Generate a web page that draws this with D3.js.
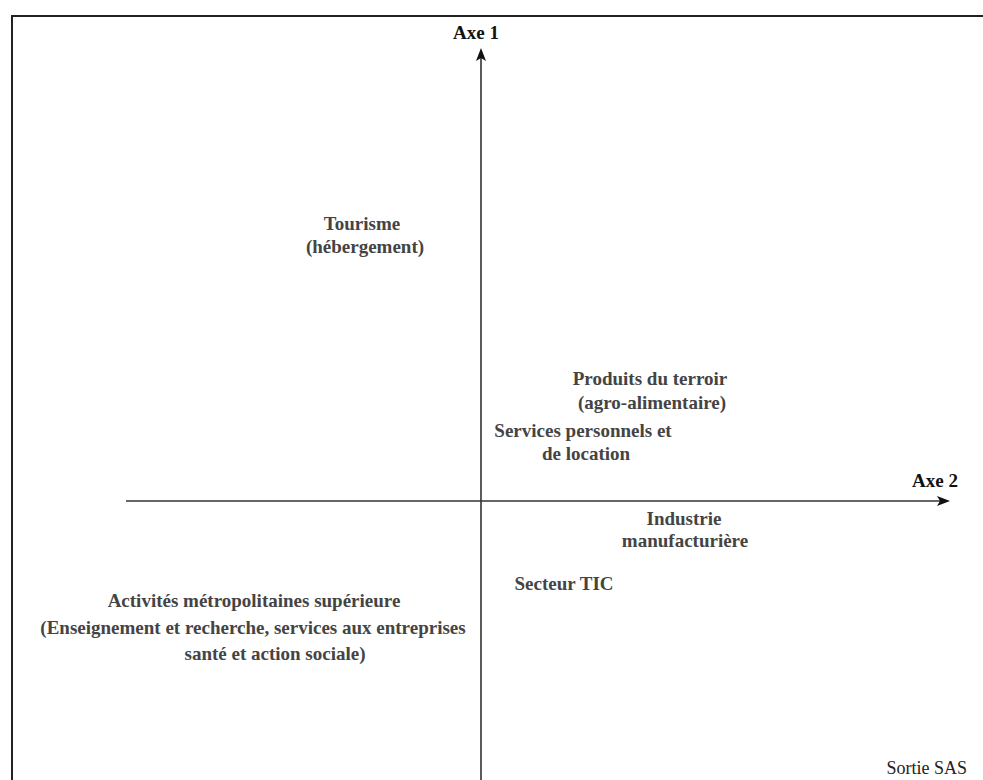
<!DOCTYPE html>
<html><head><meta charset="utf-8">
<script src="https://cdn.jsdelivr.net/npm/d3@7"></script>
<style>
html,body{margin:0;padding:0;background:#fff;}
svg{display:block;}
</style></head>
<body>
<svg id="chart" width="983" height="780"></svg>
<script>
// Category labels (each is a list of lines)
const categories = [
  ["Tourisme", "(hébergement)"],
  ["Produits du terroir", "(agro-alimentaire)"],
  ["Services personnels et", "de location"],
  ["Industrie", "manufacturière"],
  ["Secteur TIC"],
  ["Activités métropolitaines supérieure", "(Enseignement et recherche, services aux entreprises", "santé et action sociale)"]
];
// Coordinates on Axe 2 (horizontal) and Axe 1 (vertical)
const axe2Values = [-1.19, 1.69, 1.02, 2.03, 0.83, -2.27];
const axe1Values = [2.71, 1.16, 0.64, -0.24, -0.89, -1.06];
const axisTitles = ["Axe 1", "Axe 2"];
const sourceNote = "Sortie SAS";

const svg = d3.select("#chart");
const W = 983, H = 780;
const serif = "'Liberation Serif', 'Times New Roman', serif";

const x = d3.scaleLinear().domain([-3.55, 4.69]).range([126, 950]);
const y = d3.scaleLinear().domain([-2.79, 4.53]).range([780, 48]);

// frame
svg.append("path")
  .attr("d", `M12,${H+5} L12,16 L${W+5},16`)
  .attr("fill", "none").attr("stroke", "#222").attr("stroke-width", 2);

const x0 = x(0), y0 = y(0);
const axisColor = "#333";

// horizontal axis (Axe 2)
svg.append("line")
  .attr("x1", x.range()[0]).attr("x2", x.range()[1] - 8)
  .attr("y1", y0).attr("y2", y0)
  .attr("stroke", axisColor).attr("stroke-width", 1.6);
svg.append("path")
  .attr("d", `M${x.range()[1]},${y0} L${x.range()[1]-13},${y0-5} L${x.range()[1]-10},${y0} L${x.range()[1]-13},${y0+5} Z`)
  .attr("fill", "#111");

// vertical axis (Axe 1)
svg.append("line")
  .attr("x1", x0).attr("x2", x0)
  .attr("y1", y.range()[0]).attr("y2", y.range()[1] + 8)
  .attr("stroke", axisColor).attr("stroke-width", 1.6);
svg.append("path")
  .attr("d", `M${x0},${y.range()[1]} L${x0-5},${y.range()[1]+13} L${x0},${y.range()[1]+10} L${x0+5},${y.range()[1]+13} Z`)
  .attr("fill", "#111");

// axis titles
svg.append("text")
  .attr("x", x0 - 5).attr("y", 39)
  .attr("text-anchor", "middle")
  .style("font-family", serif)
  .style("font-weight", "bold").style("font-size", "19px")
  .attr("fill", "#111")
  .text(axisTitles[0]);
svg.append("text")
  .attr("x", 958).attr("y", 487)
  .attr("text-anchor", "end")
  .style("font-family", serif)
  .style("font-weight", "bold").style("font-size", "19px")
  .attr("fill", "#111")
  .text(axisTitles[1]);

// category labels
const lineGap = [23, 24, 23, 22, 24, 26.5];
const lineDx = [[0, 3], [0, 2], [0, 3], [0, 1], [0], [0, -1, 21]];
categories.forEach((lines, i) => {
  const t = svg.append("text")
    .attr("text-anchor", "middle")
    .style("font-family", serif)
    .style("font-weight", "bold").style("font-size", "19px")
    .attr("fill", "#444");
  lines.forEach((ln, j) => {
    t.append("tspan")
      .attr("x", x(axe2Values[i]) + lineDx[i][j])
      .attr("y", y(axe1Values[i]) + j * lineGap[i])
      .text(ln);
  });
});

// source note
svg.append("text")
  .attr("x", 967).attr("y", 774)
  .attr("text-anchor", "end")
  .style("font-family", serif)
  .style("font-size", "18px")
  .attr("fill", "#222")
  .text(sourceNote);
</script>
</body></html>
